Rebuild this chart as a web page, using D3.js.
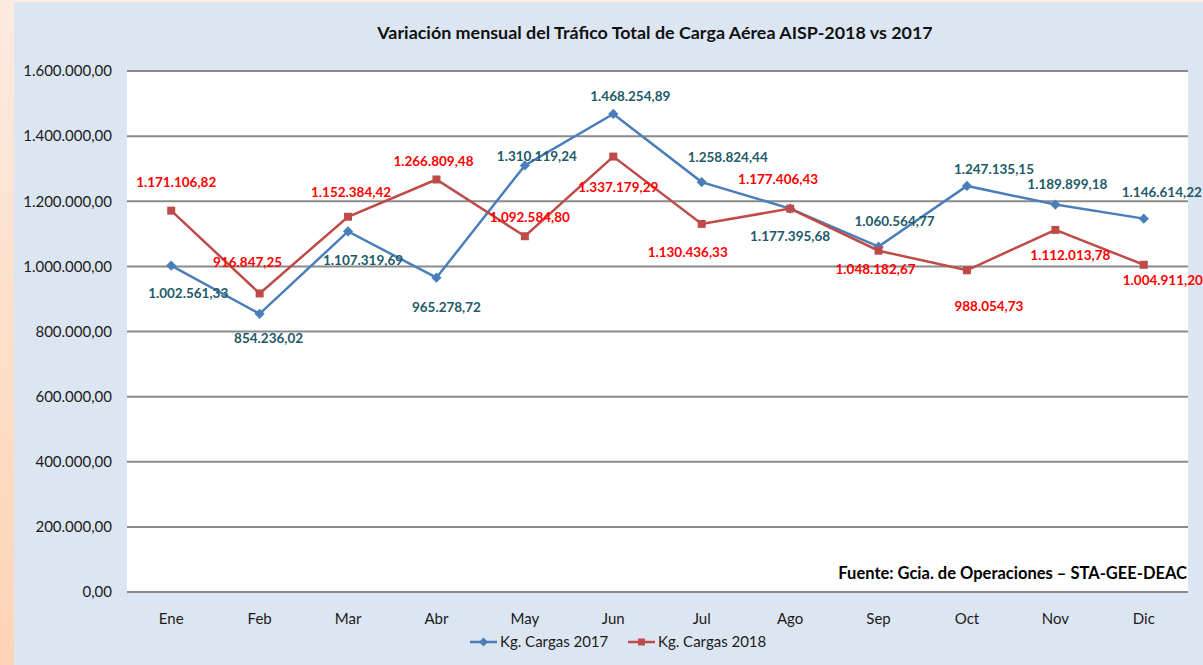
<!DOCTYPE html>
<html>
<head>
<meta charset="utf-8">
<script src="https://cdn.jsdelivr.net/npm/d3@7"></script>
<style>
  body { margin: 0; background: #dce6f2; }
  svg { display: block; font-family: Lato, "Open Sans", sans-serif; }
</style>
</head>
<body>
<svg id="chart"></svg>
<script>
// data
const months = ['Ene','Feb','Mar','Abr','May','Jun','Jul','Ago','Sep','Oct','Nov','Dic'];
const cargas2017 = [1002561.33, 854236.02, 1107319.69, 965278.72, 1310119.24, 1468254.89,
                    1258824.44, 1177395.68, 1060564.77, 1247135.15, 1189899.18, 1146614.22];
const cargas2018 = [1171106.82, 916847.25, 1152384.42, 1266809.48, 1092584.80, 1337179.29,
                    1130436.33, 1177406.43, 1048182.67, 988054.73, 1112013.78, 1004911.20];
const yTicks = [0, 200000, 400000, 600000, 800000, 1000000, 1200000, 1400000, 1600000];

// label nudges (pixels) so the labels sit like in the original
const off2017 = [[17,28],[9,24],[15,29],[10,30],[12,-9],[17,-18],[26,-25],[0,28],[16,-25],[27,-17],[12,-20],[18,-26]];
const off2018 = [[5,-28],[-12,-31],[3,-24],[-3,-18],[5,-19],[5,31],[-14,28],[-12,-29],[-3,19],[22,36],[15,25],[19,15]];

const width = 1203, height = 665;
const margin = {left: 127, right: 15, top: 71, bottom: 73};

const es = d3.formatLocale({decimal: ',', thousands: '.', grouping: [3], currency: ['', '']});
const fmt = es.format(',.2f');

const svg = d3.select('#chart')
    .attr('width', width)
    .attr('height', height);

// background + peach edge strips
const grad = svg.append('defs').append('linearGradient')
    .attr('id', 'peach').attr('x1', 0).attr('y1', 0).attr('x2', 0).attr('y2', 1);
grad.append('stop').attr('offset', 0).attr('stop-color', '#fdeadf');
grad.append('stop').attr('offset', 1).attr('stop-color', '#fcd4b4');
svg.append('rect').attr('width', width).attr('height', height).attr('fill', '#dce6f2');
svg.append('rect').attr('width', 14).attr('height', height).attr('fill', 'url(#peach)');
svg.append('rect').attr('width', width).attr('height', 2).attr('fill', '#fdeadf');

const x = d3.scaleBand()
    .domain(months)
    .range([margin.left, width - margin.right]);
const y = d3.scaleLinear()
    .domain([0, 1600000])
    .range([height - margin.bottom, margin.top]);
const cx = d => x(d) + x.bandwidth() / 2;

svg.append('rect')
    .attr('x', margin.left).attr('y', margin.top)
    .attr('width', width - margin.right - margin.left)
    .attr('height', height - margin.bottom - margin.top)
    .attr('fill', '#fff');

// gridlines
svg.append('g')
    .selectAll('line')
    .data(yTicks)
    .enter()
    .append('line')
    .attr('x1', margin.left)
    .attr('x2', width - margin.right)
    .attr('y1', d => y(d))
    .attr('y2', d => y(d))
    .attr('stroke', '#8a8a8a')
    .attr('stroke-width', 2);

// y axis labels
const yAxis = svg.append('g')
    .attr('transform', `translate(${margin.left},0)`)
    .call(d3.axisLeft(y).tickValues(yTicks).tickFormat(fmt).tickSize(0).tickPadding(15));
yAxis.select('.domain').remove();
yAxis.selectAll('text').attr('font-size', 15).attr('fill', '#1a1a1a').attr('font-family', 'Lato');

// x axis labels
const xAxis = svg.append('g')
    .attr('transform', `translate(0,${height - margin.bottom})`)
    .call(d3.axisBottom(x).tickSize(0).tickPadding(21));
xAxis.select('.domain').remove();
xAxis.selectAll('text').attr('font-size', 15).attr('fill', '#1a1a1a').attr('font-family', 'Lato');

const series = [
    {name: 'Kg. Cargas 2017', values: cargas2017, color: '#4a7ebb', label: '#215a68', diamond: true, off: off2017},
    {name: 'Kg. Cargas 2018', values: cargas2018, color: '#be4b48', label: '#ff0000', diamond: false, off: off2018}
];

const line = d3.line()
    .x((d, i) => cx(months[i]))
    .y(d => y(d));

// diamonds are squares turned 45 degrees
const marker = (s, size) => d3.symbol().type(d3.symbolSquare).size(size)();

series.forEach(s => {
    svg.append('path')
        .datum(s.values)
        .attr('d', line)
        .attr('fill', 'none')
        .attr('stroke', s.color)
        .attr('stroke-width', 2.5);

    svg.append('g')
        .selectAll('path')
        .data(s.values)
        .enter()
        .append('path')
        .attr('transform', (d, i) => `translate(${cx(months[i])},${y(d)})` + (s.diamond ? ' rotate(45)' : ''))
        .attr('d', marker(s, s.diamond ? 52 : 64))
        .attr('fill', s.color);
});

// data labels (drawn after both lines so they sit on top)
series.forEach(s => {
    svg.append('g')
        .selectAll('text')
        .data(s.values)
        .enter()
        .append('text')
        .attr('x', (d, i) => cx(months[i]) + s.off[i][0])
        .attr('y', (d, i) => y(d) + s.off[i][1])
        .attr('dy', '0.35em')
        .attr('text-anchor', 'middle')
        .attr('font-size', 13.5)
        .attr('font-weight', 'bold')
        .attr('fill', s.label)
        .text(d => fmt(d));
});

// title
svg.append('text')
    .attr('x', 655)
    .attr('y', 33)
    .attr('dy', '0.35em')
    .attr('text-anchor', 'middle')
    .attr('font-size', 17.9)
    .attr('font-weight', 'bold')
    .attr('fill', '#111')
    .text('Variación mensual del Tráfico Total de Carga Aérea AISP-2018 vs 2017');

// source note
svg.append('text')
    .attr('x', width - margin.right - 1)
    .attr('y', 573)
    .attr('dy', '0.35em')
    .attr('text-anchor', 'end')
    .attr('font-size', 16.5)
    .attr('font-weight', 'bold')
    .attr('fill', '#000')
    .text('Fuente: Gcia. de Operaciones – STA-GEE-DEAC');

// legend
const legend = svg.append('g').attr('transform', 'translate(470,642)');
const legX = [0, 158];
series.forEach((s, i) => {
    const g = legend.append('g').attr('transform', `translate(${legX[i]},0)`);
    g.append('line').attr('x1', 0).attr('x2', 27).attr('stroke', s.color).attr('stroke-width', 2.5);
    g.append('path')
        .attr('transform', 'translate(13.5,0)' + (s.diamond ? ' rotate(45)' : ''))
        .attr('d', marker(s, s.diamond ? 40 : 48))
        .attr('fill', s.color);
    g.append('text')
        .attr('x', 30)
        .attr('dy', '0.35em')
        .attr('font-size', 15)
        .attr('fill', '#1a1a1a')
        .text(s.name);
});
</script>
</body>
</html>
